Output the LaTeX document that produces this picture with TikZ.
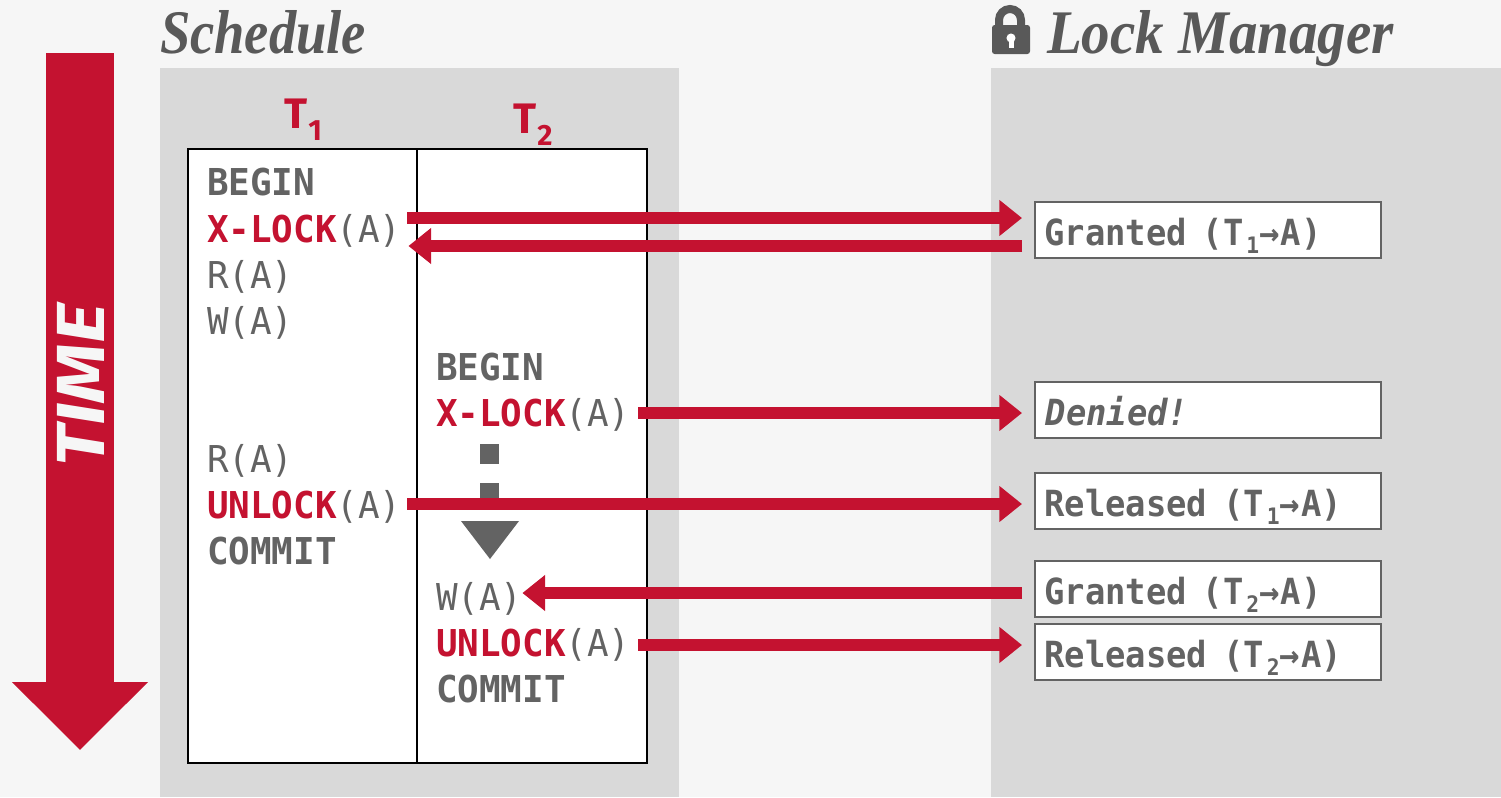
\documentclass[tikz,border=0pt]{standalone}
\usepackage{fontspec}
\usepackage{tikz}
\usetikzlibrary{arrows.meta}
\setmainfont{Liberation Serif}
\newfontfamily\opfont[FakeStretch=0.97]{DejaVu Sans Mono}
\newfontfamily\boxfont[FakeStretch=0.94]{DejaVu Sans Mono}
\newfontfamily\titlefont[FakeStretch=0.88]{Liberation Serif}
\newfontfamily\managerfont[FakeStretch=0.92]{Liberation Serif}
\newfontfamily\labelfont{Fira Sans}
\newfontfamily\timefont[FakeStretch=1.13]{Fira Sans}
\definecolor{cmured}{HTML}{C41230}
\definecolor{inkgray}{HTML}{636363}
\definecolor{titlegray}{HTML}{595959}
\definecolor{pagegray}{HTML}{F6F6F6}
\definecolor{panelgray}{HTML}{D9D9D9}
\newcommand{\tsub}[1]{\kern2pt\raisebox{-6pt}{\fontsize{17}{17}\selectfont#1}}
\newcommand{\held}[2]{#1\kern3pt~(T\tsub{#2}→\kern1pt A)}
\begin{document}
\begin{tikzpicture}[x=0.75pt,y=-0.75pt]
\tikzstyle{title}=[inner sep=0,outer sep=0,anchor=base west,text=titlegray,font=\titlefont\fontsize{46.5}{50}\selectfont\bfseries\itshape]
\tikzstyle{txn}=[inner sep=0,outer sep=0,anchor=base west,text=cmured,font=\labelfont\fontsize{32}{34}\selectfont\bfseries]
\tikzstyle{op}=[inner sep=0,outer sep=0,anchor=base west,text=inkgray,font=\opfont\fontsize{27.75}{30}\selectfont]
\tikzstyle{column}=[draw=black,fill=white,line width=1.5pt,outer sep=0,anchor=north west,minimum width=172.5pt,minimum height=460.5pt]
\tikzstyle{lockbox}=[draw=inkgray,fill=white,line width=1.5pt,outer sep=0,anchor=north west,minimum width=259.5pt,minimum height=42pt,text width=245.5pt,inner xsep=7pt,inner ysep=0,align=left,text height=25pt,text depth=2.5pt,text=inkgray,font=\boxfont\fontsize{27}{30}\selectfont\bfseries]
\tikzstyle{flow}=[draw=cmured,line width=9pt,-{Triangle[length=17pt,width=26pt]}]
\newcommand{\hot}[1]{\textcolor{cmured}{\bfseries #1}}
\useasboundingbox (0,0) rectangle (1501,797);
\fill[pagegray] (0,0) rectangle (1501,797);
\fill[panelgray] (160,68) rectangle (679,797);
\fill[panelgray] (991,68) rectangle (1501,797);
\node[title] (schedule) at (160,53) {Schedule};
\node[title,font=\managerfont\fontsize{46.5}{50}\selectfont\bfseries\itshape] (manager) at (1047,53) {Lock Manager};
% lock icon
\draw[titlegray,line width=6pt] (999,30) -- (999,20) arc (180:360:11 and 11) -- (1021,30);
\fill[titlegray,rounded corners=2pt] (992,25) rectangle (1030,54);
\fill[white] (1011,38) circle (3.4pt);
\fill[white] (1008.5,38) rectangle (1013.5,48);
\coordinate (timestart) at (80,53);
\coordinate (timeend) at (80,750);
\draw[cmured,line width=51pt,-{Triangle[length=51pt,width=99pt]}] (timestart) -- (timeend);
\node[rotate=90,text=pagegray,inner sep=0,font=\timefont\fontsize{51}{54}\selectfont\bfseries\itshape] (time) at (81,385) {TIME};
\node[column] (colone) at (188,149) {};
\node[column] (coltwo) at (417,149) {};
\node[txn] (tone) at (284,128) {T\raisebox{-9pt}{\fontsize{22}{22}\selectfont\kern1pt 1}};
\node[txn] (ttwo) at (513,133) {T\raisebox{-9pt}{\fontsize{22}{22}\selectfont\kern1pt 2}};
\node[op] (beginone) at (207,195) {\bfseries BEGIN};
\node[op] (xlockone) at (207,242) {\hot{X-LOCK}(A)};
\node[op] (readone) at (207,288) {R(A)};
\node[op] (writeone) at (207,334) {W(A)};
\node[op] (readtwo) at (207,472) {R(A)};
\node[op] (unlockone) at (207,518) {\hot{UNLOCK}(A)};
\node[op] (commitone) at (207,564) {\bfseries COMMIT};
\node[op] (begintwo) at (436,380) {\bfseries BEGIN};
\node[op] (xlocktwo) at (436,426) {\hot{X-LOCK}(A)};
\node[op] (writetwo) at (436,610) {W(A)};
\node[op] (unlocktwo) at (436,656) {\hot{UNLOCK}(A)};
\node[op] (committwo) at (436,702) {\bfseries COMMIT};
\fill[inkgray] (480,444) rectangle (499,464);
\fill[inkgray] (480,483) rectangle (499,503);
\fill[inkgray] (461,521) -- (519,521) -- (490,559) -- cycle;
\node[lockbox] (grantone) at (1035,202) {\held{Granted}{1}};
\node[lockbox] (denied) at (1035,382) {\itshape\kern1pt Denied!};
\node[lockbox] (releaseone) at (1035,473) {\held{Released}{1}};
\node[lockbox] (granttwo) at (1035,561) {\held{Granted}{2}};
\node[lockbox] (releasetwo) at (1035,624) {\held{Released}{2}};
\draw[flow] ([shift={(4.5pt,18pt)}]xlockone.base east) -- ([shift={(-9.75pt,9pt)}]grantone.west);
\draw[flow] ([shift={(-9.75pt,-12pt)}]grantone.west) -- ([shift={(5.25pt,-3pt)}]xlockone.base east);
\draw[flow] ([shift={(6pt,9.75pt)}]xlocktwo.base east) -- ([shift={(-9.75pt,-2.25pt)}]denied.west);
\draw[flow] ([shift={(4.5pt,10.5pt)}]unlockone.base east) -- ([shift={(-9.75pt,-2.25pt)}]releaseone.west);
\draw[flow] ([shift={(-9.75pt,-3pt)}]granttwo.west) -- ([shift={(0pt,12.75pt)}]writetwo.base east);
\draw[flow] ([shift={(6pt,8.25pt)}]unlocktwo.base east) -- ([shift={(-9.75pt,5.25pt)}]releasetwo.west);
\end{tikzpicture}
\end{document}
